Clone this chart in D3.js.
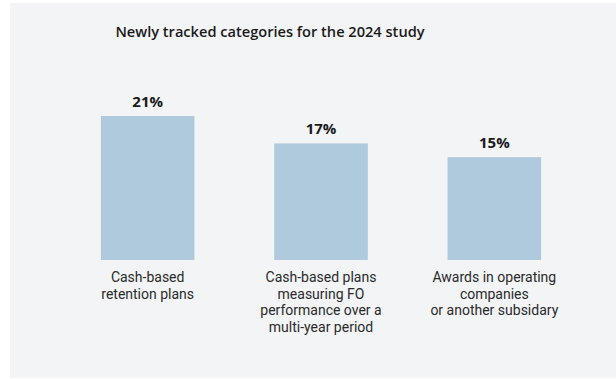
<!DOCTYPE html>
<html>
<head>
<meta charset="utf-8">
<script src="https://cdn.jsdelivr.net/npm/d3@7"></script>
<style>
  html, body { margin: 0; padding: 0; background: #ffffff; }
  svg { display: block; }
</style>
</head>
<body>
<div id="chart"></div>
<script>
// chart data
const categories = [
  "Cash-based\nretention plans",
  "Cash-based plans\nmeasuring FO\nperformance over a\nmulti-year period",
  "Awards in operating\ncompanies\nor another subsidary"
];
const values = [21, 17, 15];
const titleText = "Newly tracked categories for the 2024 study";

const W = 616, H = 379;
const font = "'Open Sans', 'DejaVu Sans', sans-serif";
const labelFont = "Roboto, 'DejaVu Sans', sans-serif";

const svg = d3.select("#chart").append("svg")
  .attr("width", W)
  .attr("height", H);

// grey panel behind the chart
svg.append("rect")
  .attr("x", 10).attr("y", 3)
  .attr("width", W - 10).attr("height", 375)
  .attr("fill", "#f3f4f6");

svg.append("text")
  .attr("x", 270).attr("y", 37)
  .attr("text-anchor", "middle")
  .attr("font-family", font)
  .attr("font-size", 14.6)
  .attr("font-weight", 600)
  .attr("fill", "#1a1a1a")
  .text(titleText);

const x = d3.scaleBand()
  .domain(categories)
  .range([61, 581])
  .paddingInner(0.46)
  .paddingOuter(0.23);

const y = d3.scaleLinear()
  .domain([0, 21])
  .range([260, 116]);

const g = svg.append("g");

g.selectAll("rect.bar")
  .data(values)
  .enter()
  .append("rect")
  .attr("class", "bar")
  .attr("x", (d, i) => x(categories[i]))
  .attr("y", d => y(d))
  .attr("width", x.bandwidth())
  .attr("height", d => y(0) - y(d))
  .attr("fill", "#afcadc");

// value labels above bars
g.selectAll("text.val")
  .data(values)
  .enter()
  .append("text")
  .attr("class", "val")
  .attr("x", (d, i) => x(categories[i]) + x.bandwidth() / 2)
  .attr("y", d => y(d) - 9)
  .attr("text-anchor", "middle")
  .attr("font-family", font)
  .attr("font-size", 15)
  .attr("font-weight", 700)
  .attr("fill", "#1a1a1a")
  .text(d => d + "%");

// category labels under bars
const lab = g.selectAll("text.cat")
  .data(categories)
  .enter()
  .append("text")
  .attr("class", "cat")
  .attr("x", d => x(d) + x.bandwidth() / 2)
  .attr("y", 282)
  .attr("text-anchor", "middle")
  .attr("font-family", labelFont)
  .attr("font-size", 14)
  .attr("fill", "#2a2a2a");

lab.selectAll("tspan")
  .data(d => d.split("\n"))
  .enter()
  .append("tspan")
  .attr("x", function () { return this.parentNode.getAttribute("x"); })
  .attr("dy", (d, i) => i === 0 ? 0 : 16.6)
  .text(d => d);
</script>
</body>
</html>
